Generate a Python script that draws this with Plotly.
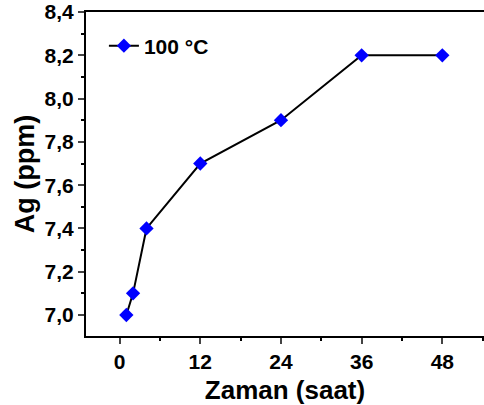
import plotly.graph_objects as go

# Data
time_h = [1, 2, 4, 12, 24, 36, 48]
ag_ppm = [7.0, 7.1, 7.4, 7.7, 7.9, 8.2, 8.2]
series_name = "100 °C"
x_ticks = [0, 12, 24, 36, 48]
y_ticks = [7.0, 7.2, 7.4, 7.6, 7.8, 8.0, 8.2, 8.4]

FONT = "Liberation Sans, Arial, sans-serif"

fig = go.Figure()
fig.add_trace(go.Scatter(
    x=time_h, y=ag_ppm, mode="lines+markers", name=series_name,
    line=dict(color="black", width=2),
    marker=dict(symbol="diamond", size=11, color="#0000ff"),
))

fig.update_layout(
    width=484, height=405,
    margin=dict(l=86, r=0, t=12, b=69),
    paper_bgcolor="white", plot_bgcolor="white",
    separators=",.",
    font=dict(family=FONT, color="black"),
    showlegend=True,
    legend=dict(x=0.045, y=0.895, xanchor="left", yanchor="middle",
                bgcolor="rgba(0,0,0,0)",
                font=dict(family=FONT, size=21, color="black", weight="bold")),
)
fig.update_xaxes(
    automargin=False,
    range=[-5, 54.2], tickvals=x_ticks, ticks="outside", ticklen=6, tickwidth=2,
    showline=True, linewidth=2, linecolor="black", mirror=True, showgrid=False,
    zeroline=False,
    tickfont=dict(family=FONT, size=21, color="black", weight="bold"),
    minor=dict(tickvals=[6, 18, 30, 42, 54], ticks="outside", ticklen=3, tickwidth=2, tickcolor="black"),
    title=dict(text="Zaman (saat)", font=dict(family=FONT, size=26, color="black", weight="bold"), standoff=12),
)
fig.update_yaxes(
    automargin=False,
    range=[6.903, 8.4], tickvals=y_ticks, tickformat=".1f", ticks="outside", ticklen=6, tickwidth=2,
    showline=True, linewidth=2, linecolor="black", mirror=False, showgrid=False,
    zeroline=False,
    tickfont=dict(family=FONT, size=21, color="black", weight="bold"),
    minor=dict(tickvals=[7.1, 7.3, 7.5, 7.7, 7.9, 8.1, 8.3], ticks="outside", ticklen=3, tickwidth=2, tickcolor="black"),
    title=dict(text="Ag (ppm)", font=dict(family=FONT, size=27, color="black", weight="bold"), standoff=2),
)

fig.write_html(
    "out.html",
    config={"displayModeBar": False},
    post_script="document.body.style.margin='0';document.body.style.overflow='hidden';",
)
